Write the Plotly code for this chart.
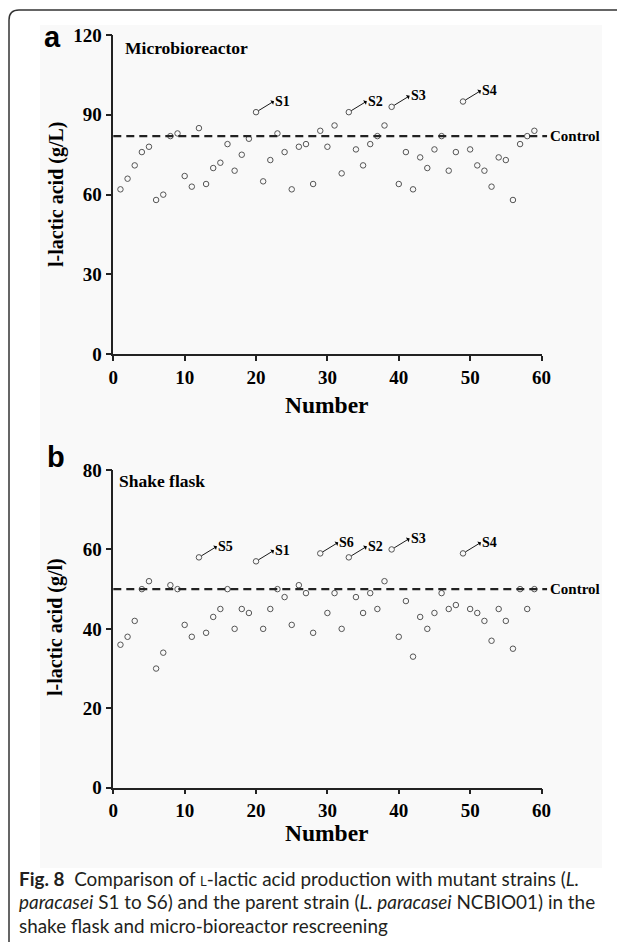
import plotly.graph_objects as go

# page body has an 8px margin: the figure is drawn 8px in from the top-left
OFF = 8
W, H = 625 - OFF, 942 - OFF

# ---------------- data ----------------
numbers = list(range(1, 60))
micro_vals = [62, 66, 71, 76, 78, 58, 60, 82, 83, 67,
              63, 85, 64, 70, 72, 79, 69, 75, 81, 91,
              65, 73, 83, 76, 62, 78, 79, 64, 84, 78,
              86, 68, 91, 77, 71, 79, 82, 86, 93, 64,
              76, 62, 74, 70, 77, 82, 69, 76, 95, 77,
              71, 69, 63, 74, 73, 58, 79, 82, 84]
flask_vals = [36, 38, 42, 50, 52, 30, 34, 51, 50, 41,
              38, 58, 39, 43, 45, 50, 40, 45, 44, 57,
              40, 45, 50, 48, 41, 51, 49, 39, 59, 44,
              49, 40, 58, 48, 44, 49, 45, 52, 60, 38,
              47, 33, 43, 40, 44, 49, 45, 46, 59, 45,
              44, 42, 37, 45, 42, 35, 50, 45, 50]
micro_control = 82
flask_control = 50
micro_labels = {20: "S1", 33: "S2", 39: "S3", 49: "S4"}
flask_labels = {12: "S5", 20: "S1", 29: "S6", 33: "S2", 39: "S3", 49: "S4"}
micro_yticks = [0, 30, 60, 90, 120]
flask_yticks = [0, 20, 40, 60, 80]
x_ticks = [0, 10, 20, 30, 40, 50, 60]


def px(x):
    return (x - OFF) / W


def py(y):
    return 1 - (y - OFF) / H


SERIF = "Liberation Serif"
AX_L, AX_R = 113.3, 541.5
A_TOP, A_BOT = 35.0, 354.3
B_TOP, B_BOT = 470.0, 787.7

fig = go.Figure()

marker = dict(symbol="circle-open", size=5.5, color="#555555", line=dict(width=1, color="#555555"))
fig.add_trace(go.Scatter(x=numbers, y=micro_vals, mode="markers", marker=marker,
                         xaxis="x", yaxis="y", showlegend=False))
fig.add_trace(go.Scatter(x=numbers, y=flask_vals, mode="markers", marker=marker,
                         xaxis="x2", yaxis="y2", showlegend=False))

tickfont = dict(family=SERIF, size=19, color="black", weight="bold")
axis_common = dict(showline=True, linecolor="#222", linewidth=1.5, ticks="outside",
                   tickcolor="#222", tickwidth=1.5, showgrid=False, zeroline=False,
                   tickfont=tickfont, automargin=False)

fig.update_layout(
    width=W, height=H, template="none",
    margin=dict(l=0, r=0, t=0, b=0),
    paper_bgcolor="white", plot_bgcolor="rgba(0,0,0,0)",
    showlegend=False,
    xaxis=dict(domain=[px(AX_L), px(AX_R)], range=[0, 60], tickvals=x_ticks, ticklen=5,
               anchor="y", **axis_common),
    yaxis=dict(domain=[py(A_BOT), py(A_TOP)], range=[0, 120], tickvals=micro_yticks, ticklen=6,
               anchor="x", **axis_common),
    xaxis2=dict(domain=[px(AX_L), px(AX_R)], range=[0, 60], tickvals=x_ticks, ticklen=5,
                anchor="y2", **axis_common),
    yaxis2=dict(domain=[py(B_BOT), py(B_TOP)], range=[0, 80], tickvals=flask_yticks, ticklen=6,
                anchor="x2", **axis_common),
)

shapes = []
# light photo background
shapes.append(dict(type="rect", xref="paper", yref="paper", x0=px(40), x1=px(602),
                   y0=py(868), y1=py(25), fillcolor="#f9f9f9", line=dict(width=0), layer="below"))
# frame with rounded top-left corner
r = 10
x0f, y0f = 9, 10
path = (f"M {px(x0f)},{py(H + OFF + 5)} L {px(x0f)},{py(y0f + r)} "
        f"Q {px(x0f)},{py(y0f)} {px(x0f + r)},{py(y0f)} L {px(W + OFF + 5)},{py(y0f)}")
shapes.append(dict(type="path", xref="paper", yref="paper", path=path,
                   line=dict(color="#333", width=1.5)))
# control lines
for xa, ya, c in [("x", "y", micro_control), ("x2", "y2", flask_control)]:
    shapes.append(dict(type="line", xref=f"{xa} domain", yref=ya, x0=0, x1=1.013, y0=c, y1=c,
                       line=dict(color="#222", width=2.2, dash="8px,5px")))
fig.update_layout(shapes=shapes)

ann = []
lab_font = dict(family=SERIF, size=14, color="black", weight="bold")
for xa, ya, labels, vals in [("x", "y", micro_labels, micro_vals), ("x2", "y2", flask_labels, flask_vals)]:
    for n, s in labels.items():
        v = vals[numbers.index(n)]
        ann.append(dict(x=n, y=v, xref=xa, yref=ya, text=s, showarrow=True, ax=18, ay=-11,
                        xanchor="left", yanchor="middle", arrowside="start", arrowhead=2,
                        arrowsize=1.3, arrowwidth=0.9, arrowcolor="black", standoff=3,
                        font=lab_font, borderpad=0))
    ann.append(dict(x=1.015, y=micro_control if ya == "y" else flask_control,
                    xref=f"{xa} domain", yref=ya, text="Control", showarrow=False,
                    xanchor="left", yanchor="middle",
                    font=dict(family=SERIF, size=15, color="black", weight="bold")))

ann.append(dict(x=px(123), y=py(48), xref="paper", yref="paper", text="Microbioreactor",
                showarrow=False, xanchor="left", yanchor="middle",
                font=dict(family=SERIF, size=17.5, color="black", weight="bold")))
ann.append(dict(x=px(117), y=py(481), xref="paper", yref="paper", text="Shake flask",
                showarrow=False, xanchor="left", yanchor="middle",
                font=dict(family=SERIF, size=17.5, color="black", weight="bold")))
# panel letters
ann.append(dict(x=px(53), y=py(37), xref="paper", yref="paper", text="a", showarrow=False,
                xanchor="center", yanchor="middle",
                font=dict(family="Liberation Sans", size=29, color="black", weight="bold")))
ann.append(dict(x=px(56), y=py(457), xref="paper", yref="paper", text="b", showarrow=False,
                xanchor="center", yanchor="middle",
                font=dict(family="Liberation Sans", size=29, color="black", weight="bold")))
# axis titles
title_font = dict(family=SERIF, size=20, color="black", weight="bold")
ann.append(dict(x=px(57), y=py(194), xref="paper", yref="paper", text="l-lactic acid (g/L)",
                showarrow=False, textangle=-90, xanchor="center", yanchor="middle", font=title_font))
ann.append(dict(x=px(55), y=py(627), xref="paper", yref="paper", text="l-lactic acid (g/l)",
                showarrow=False, textangle=-90, xanchor="center", yanchor="middle", font=title_font))
num_font = dict(family=SERIF, size=23.5, color="black", weight="bold")
ann.append(dict(x=px(327), y=py(405), xref="paper", yref="paper", text="Number",
                showarrow=False, xanchor="center", yanchor="middle", font=num_font))
ann.append(dict(x=px(327), y=py(833), xref="paper", yref="paper", text="Number",
                showarrow=False, xanchor="center", yanchor="middle", font=num_font, borderpad=0))

# caption
cap_font = dict(family="Lato", size=18.9, color="#231f20")
cap_lines = [
    "<b>Fig. 8</b>  Comparison of <span style='font-size:13px'>L</span>-lactic acid production with mutant strains (<i>L.</i>",
    "<i>paracasei</i> S1 to S6) and the parent strain (<i>L. paracasei</i> NCBIO01) in the",
    "shake flask and micro-bioreactor rescreening",
]
for i, line in enumerate(cap_lines):
    ann.append(dict(x=px(17), y=py(878 + 23.5 * i), xref="paper", yref="paper", text=line,
                    showarrow=False, xanchor="left", yanchor="middle", align="left", font=cap_font))

fig.update_layout(annotations=ann)
fig.write_html("out.html")
